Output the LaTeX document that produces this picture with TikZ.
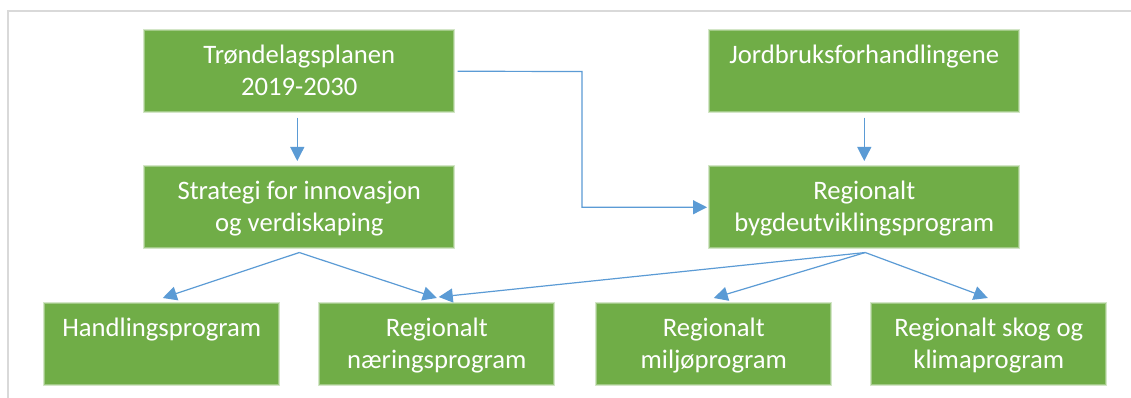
\documentclass[tikz,border=0pt]{standalone}
\usepackage{fontspec}
\setmainfont{Carlito}
\usetikzlibrary{arrows.meta,calc}
\definecolor{boxgreen}{HTML}{70AD47}
\definecolor{arrowblue}{HTML}{5B9BD5}
\definecolor{framegray}{HTML}{D9D9D9}
\begin{document}
\begin{tikzpicture}[x=0.75pt,y=-0.75pt,
  gbox/.style={rectangle, fill=boxgreen, inner sep=0pt, anchor=north west,
    text=white, font=\fontsize{20}{24}\selectfont,
    text height=24pt, text depth=36pt,
    preaction={draw=boxgreen, draw opacity=0.3, line width=3pt},
    preaction={draw=boxgreen, draw opacity=0.5, line width=1.5pt}},
  wide/.style={gbox, minimum width=231pt},
  narrow/.style={gbox, minimum width=174.75pt},
  arr/.style={draw=arrowblue, line width=0.9pt, -{Triangle[length=10.5pt,width=10.5pt]}},
  every node/.append style={align=center}]
\useasboundingbox (0,0) rectangle (1131,398);
\fill[white] (0,0) rectangle (1131,398);
\draw[framegray, line width=1.5pt] (8,398) -- (8,11) -- (1131,11);

\node[wide] (T) at (145,31) {\parbox[t]{225pt}{\centering Trøndelagsplanen\\2019-2030}};
\node[wide] (J) at (710,31) {\parbox[t]{225pt}{\centering Jordbruksforhandlingene}};
\node[wide] (S) at (145,167) {\parbox[t]{225pt}{\centering Strategi for innovasjon\\og verdiskaping}};
\node[wide] (B) at (710,167) {\parbox[t]{225pt}{\centering Regionalt\\bygdeutviklingsprogram}};
\node[narrow] (H) at (45,304) {\parbox[t]{172pt}{\centering Handlingsprogram}};
\node[narrow] (N) at (320,304) {\parbox[t]{172pt}{\centering Regionalt\\næringsprogram}};
\node[narrow] (M) at (597,304) {\parbox[t]{172pt}{\centering Regionalt\\miljøprogram}};
\node[narrow] (K) at (872,304) {\parbox[t]{172pt}{\centering Regionalt skog og\\klimaprogram}};

\coordinate (elb) at (582,71.5);
\draw[arr] ($(T.south)+(-2,6)$) -- ($(S.north)+(-2,-6)$);
\draw[arr] ($(J.south)+(0,6)$) -- ($(B.north)+(0,-6)$);
\draw[arr] ($(T.east)+(4,0)$) -- (elb) |- ($(B.west)+(-3,0)$);
\draw[arr] ($(S.south)+(0,5)$) -- ($(H.north)+(1,-6)$);
\draw[arr] ($(S.south)+(0,5)$) -- ($(N.north)+(0,-6)$);
\draw[arr] ($(B.south)+(1,5)$) -- ($(N.north)+(2,-7)$);
\draw[arr] ($(B.south)+(1,5)$) -- ($(M.north)+(0,-6)$);
\draw[arr] ($(B.south)+(1,5)$) -- ($(K.north)+(-1,-6)$);
\end{tikzpicture}
\end{document}
